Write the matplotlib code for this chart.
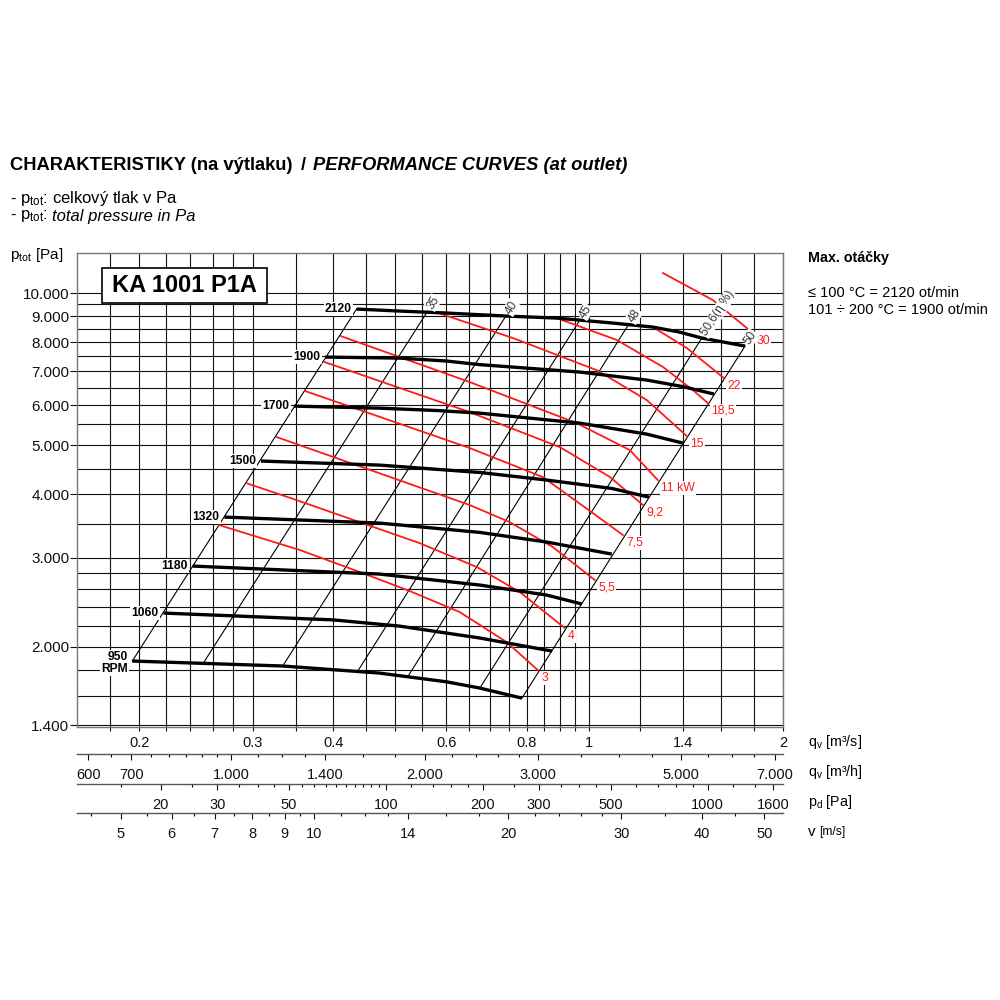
import matplotlib
matplotlib.use("Agg")
import numpy as np
import matplotlib.pyplot as plt
from matplotlib.patches import Rectangle
from matplotlib.ticker import NullFormatter

plt.rcParams["font.family"] = ["Liberation Sans", "DejaVu Sans"]
plt.rcParams["mathtext.fontset"] = "custom"
plt.rcParams["mathtext.rm"] = "Liberation Sans"
plt.rcParams["mathtext.it"] = "Liberation Sans:italic"
plt.rcParams["mathtext.bf"] = "Liberation Sans:bold"

# ---- fan curves: q [m3/s], p_tot [Pa] ----
q_2120 = [0.435, 0.507, 0.600, 0.744, 0.890, 1.088, 1.256, 1.380, 1.496, 1.746]
p_2120 = [9298, 9214, 9131, 9006, 8924, 8724, 8566, 8374, 8149, 7857]
q_1900 = [0.389, 0.507, 0.600, 0.676, 0.967, 1.229, 1.400, 1.562]
p_1900 = [7472, 7438, 7340, 7220, 6980, 6730, 6530, 6316]
q_1700 = [0.348, 0.472, 0.580, 0.676, 0.967, 1.229, 1.398]
p_1700 = [5978, 5923, 5860, 5790, 5533, 5262, 5052]
q_1500 = [0.309, 0.472, 0.676, 0.859, 1.084, 1.238]
p_1500 = [4656, 4571, 4420, 4270, 4110, 3951]
q_1320 = [0.271, 0.472, 0.676, 0.859, 1.084]
p_1320 = [3608, 3511, 3365, 3220, 3049]
q_1180 = [0.242, 0.472, 0.676, 0.859, 0.974]
p_1180 = [2887, 2784, 2648, 2530, 2429]
q_1060 = [0.218, 0.400, 0.507, 0.676, 0.875]
p_1060 = [2331, 2260, 2197, 2081, 1961]
q_950 = [0.195, 0.334, 0.472, 0.600, 0.676, 0.786]
p_950 = [1874, 1832, 1774, 1705, 1657, 1583]
rpm_names = ["2120", "1900", "1700", "1500", "1320", "1180", "1060", "950\nRPM"]

# efficiency lines (eta %), lower end on 950 RPM, upper end on 2120 RPM
eff_names = ["", "35", "40", "45", "48", "50,6(η %)", "50"]
eff_q_low = [0.195, 0.252, 0.334, 0.437, 0.522, 0.676, 0.786]
eff_p_low = [1874, 1865, 1832, 1791, 1742, 1657, 1583]
eff_q_high = [0.435, 0.561, 0.742, 0.967, 1.152, 1.496, 1.746]
eff_p_high = [9298, 9214, 9006, 8844, 8683, 8149, 7857]

# motor power lines [kW]
q_3kw = [0.266, 0.355, 0.440, 0.526, 0.629, 0.744, 0.832]
p_3kw = [3479, 3106, 2810, 2577, 2342, 2043, 1798]
q_4kw = [0.293, 0.351, 0.545, 0.669, 0.780, 0.916]
p_4kw = [4212, 3898, 3205, 2874, 2565, 2178]
q_55kw = [0.327, 0.652, 0.752, 0.878, 1.020]
p_55kw = [5192, 3811, 3527, 3148, 2709]
q_75kw = [0.362, 0.652, 0.847, 1.013, 1.128]
p_75kw = [6402, 4940, 4329, 3674, 3325]
q_92kw = [0.388, 0.652, 0.900, 1.077, 1.212]
p_92kw = [7305, 5817, 4962, 4329, 3811]
q_11kw = [0.411, 0.652, 0.956, 1.156, 1.278]
p_11kw = [8224, 6670, 5533, 4894, 4270]
q_15kw = [0.571, 0.761, 1.027, 1.229, 1.418]
p_15kw = [9214, 8149, 7041, 6143, 5215]
q_185kw = [0.890, 1.104, 1.302, 1.449, 1.529]
p_185kw = [8924, 8075, 7142, 6431, 6060]
q_22kw = [1.256, 1.418, 1.619]
p_22kw = [8566, 7785, 6792]
q_30kw = [1.302, 1.556, 1.796]
p_30kw = [10952, 9687, 8336]
power_names = ["3", "4", "5,5", "7,5", "9,2", "11 kW", "15", "18,5", "22", "30"]

# axes ticks / grid
q_major = [0.2, 0.3, 0.4, 0.6, 0.8, 1.0, 1.4, 2.0]
q_major_labels = ["0.2", "0.3", "0.4", "0.6", "0.8", "1", "1.4", "2"]
q_grid = [0.18, 0.22, 0.24, 0.26, 0.28, 0.35, 0.45, 0.5, 0.55, 0.65, 0.7,
          0.75, 0.85, 0.9, 0.95, 1.2, 1.6, 1.8]
p_major = [1400, 2000, 3000, 4000, 5000, 6000, 7000, 8000, 9000, 10000]
p_major_labels = ["1.400", "2.000", "3.000", "4.000", "5.000", "6.000",
                  "7.000", "8.000", "9.000", "10.000"]
p_grid = [1600, 1800, 2200, 2400, 2600, 2800, 3500, 4500, 5500, 6500, 7500,
          8500, 9500]
qh_major = [600, 700, 1000, 1400, 2000, 3000, 5000, 7000]
qh_labels = ["600", "700", "1.000", "1.400", "2.000", "3.000", "5.000", "7.000"]
qh_minor = [650, 750, 800, 850, 900, 950, 1100, 1200, 1300, 1600, 1800,
            2200, 2400, 2600, 2800, 3500, 4000, 4500, 5500, 6000, 6500]
pd_major = [20, 30, 50, 100, 200, 300, 500, 1000, 1600]
pd_minor = [15, 25, 35, 40, 45, 55, 60, 65, 70, 75, 80, 85, 90, 95, 120, 140,
            160, 180, 250, 350, 400, 450, 600, 700, 800, 900, 1200, 1400]
v_major = [5, 6, 7, 8, 9, 10, 14, 20, 30, 40, 50]
v_minor = [4.5, 5.5, 6.5, 7.5, 8.5, 9.5, 11, 12, 13, 16, 18, 22, 24, 26, 28,
           35, 45]

duct_area = 0.0374   # m2, v = q / A
rho = 1.2            # kg/m3, pd = rho/2 * v^2

fig = plt.figure(figsize=(10, 10), dpi=100)
ax = fig.add_axes([0.077, 0.273, 0.706, 0.474])
ax.set_xscale("log")
ax.set_yscale("log")
ax.set_xlim(0.16, 2.0)
ax.set_ylim(1388, 12000)

ax.set_xticks(q_major, q_major_labels)
ax.set_xticks(q_grid, minor=True)
ax.xaxis.set_minor_formatter(NullFormatter())
ax.set_yticks(p_major, p_major_labels)
ax.set_yticks(p_grid, minor=True)
ax.yaxis.set_minor_formatter(NullFormatter())
ax.grid(which="both", color="#111111", lw=0.8)
ax.set_axisbelow(True)
ax.tick_params(axis="x", which="both", direction="out", length=3, width=0.8,
               pad=3.5, labelsize=10.5, colors="#111111")
ax.tick_params(axis="y", which="major", direction="out", length=5, width=0.8,
               pad=0.5, labelsize=11, colors="#111111")
ax.tick_params(axis="y", which="minor", length=0)
for s in ax.spines.values():
    s.set_color("#777777")
    s.set_linewidth(1.0)

# efficiency lines
for ql, pl, qh, ph in zip(eff_q_low, eff_p_low, eff_q_high, eff_p_high):
    ax.plot([ql, qh], [pl, ph], color="black", lw=0.8, zorder=3)

# power lines
power_q = [q_3kw, q_4kw, q_55kw, q_75kw, q_92kw, q_11kw, q_15kw, q_185kw, q_22kw, q_30kw]
power_p = [p_3kw, p_4kw, p_55kw, p_75kw, p_92kw, p_11kw, p_15kw, p_185kw, p_22kw, p_30kw]
for name, q, p in zip(power_names, power_q, power_p):
    ax.plot(q, p, color="#ff1a1a", lw=1.3, zorder=3.5)
    ax.annotate(name, xy=(q[-1], p[-1]), xytext=(2.5, -5.5),
                textcoords="offset points", ha="left", va="center",
                fontsize=8.8, color="#ff1a1a", zorder=6,
                bbox=dict(boxstyle="square,pad=0.08", fc="white", ec="none"))

# RPM curves
rpm_q = [q_2120, q_1900, q_1700, q_1500, q_1320, q_1180, q_1060, q_950]
rpm_p = [p_2120, p_1900, p_1700, p_1500, p_1320, p_1180, p_1060, p_950]
for name, q, p in zip(rpm_names, rpm_q, rpm_p):
    ax.plot(q, p, color="black", lw=2.4, zorder=4, solid_capstyle="butt")
    ax.annotate(name, xy=(q[0], p[0]), xytext=(-3.5, -1.5 if "\n" in name else 0),
                textcoords="offset points", ha="right", va="center",
                fontsize=8.7, fontweight="bold", linespacing=0.95, zorder=6,
                bbox=dict(boxstyle="square,pad=0.1", fc="white", ec="none"))

# efficiency labels along the lines
for name, ql, pl, qh, ph in zip(eff_names, eff_q_low, eff_p_low, eff_q_high, eff_p_high):
    if not name:
        continue
    (x0, y0), (x1, y1) = ax.transData.transform([(ql, pl), (qh, ph)])
    ang = np.degrees(np.arctan2(y1 - y0, x1 - x0))
    dx, dy = 2.5 * np.cos(np.radians(ang)), 2.5 * np.sin(np.radians(ang))
    ax.annotate(name, xy=(qh, ph), xytext=(dx, dy), textcoords="offset points",
                rotation=ang, rotation_mode="anchor", ha="left", va="center",
                fontsize=8.5, color="#333333", zorder=6,
                bbox=dict(boxstyle="square,pad=0.05", fc="white", ec="none"))

# model box
ax.add_patch(Rectangle((0.0354, 0.8945), 0.2337, 0.0739, transform=ax.transAxes,
                       fc="white", ec="black", lw=1.2, zorder=6))
ax.text(0.1516, 0.9314, "KA 1001 P1A", transform=ax.transAxes, ha="center",
        va="center", fontsize=17, fontweight="bold", zorder=7)

# secondary scales below the chart
sec_h = ax.secondary_xaxis(-0.057, functions=(lambda q: q * 3600, lambda h: h / 3600))
sec_pd = ax.secondary_xaxis(
    -0.1203,
    functions=(lambda q: 0.5 * rho * (q / duct_area) ** 2,
               lambda pd: duct_area * np.sqrt(np.abs(pd) * 2 / rho)))
sec_v = ax.secondary_xaxis(-0.1814, functions=(lambda q: q / duct_area,
                                               lambda v: v * duct_area))
sec_specs = [(sec_h, qh_major, qh_labels, qh_minor),
             (sec_pd, pd_major, [str(v) for v in pd_major], pd_minor),
             (sec_v, v_major, [str(v) for v in v_major], v_minor)]
for sec, major, labels, minor in sec_specs:
    sec.set_ticks(major, labels)
    sec.set_ticks(minor, minor=True)
    sec.xaxis.set_minor_formatter(NullFormatter())
    sec.tick_params(which="major", direction="out", length=4, width=0.8,
                    pad=6, labelsize=10.5, colors="#111111")
    sec.tick_params(which="minor", direction="out", length=2.5, width=0.8)
    sec.spines["bottom"].set_color("#555555")
    sec.spines["bottom"].set_linewidth(1.0)

# units at the right of the scales
fig.text(0.808, 1 - 0.742, r"$\mathregular{q_{v}}$ [m³/s]", fontsize=10.3, va="center")
fig.text(0.808, 1 - 0.772, r"$\mathregular{q_{v}}$ [m³/h]", fontsize=10.3, va="center")
fig.text(0.808, 1 - 0.802, r"$\mathregular{p_{d}}$ [Pa]", fontsize=10.3, va="center")
fig.text(0.808, 1 - 0.832, "v", fontsize=10.8, va="center")
fig.text(0.819, 1 - 0.832, "[m/s]", fontsize=8.7, va="center")

# header
fig.canvas.draw()
renderer = fig.canvas.get_renderer()
title_y = 1 - 0.1705
t1 = fig.text(0.010, title_y, "CHARAKTERISTIKY (na výtlaku)", fontsize=13.2,
              fontweight="bold", va="baseline")
bb = t1.get_window_extent(renderer)
t2 = fig.text((bb.x1 + 8) / 1000, title_y, "/", fontsize=13.2,
              fontweight="bold", va="baseline")
bb = t2.get_window_extent(renderer)
fig.text((bb.x1 + 7) / 1000, title_y, "PERFORMANCE CURVES (at outlet)",
         fontsize=13.2, fontweight="bold", style="italic", va="baseline")

fig.text(0.010, 1 - 0.198, r"- $\mathregular{p_{tot}}$: celkový tlak v Pa",
         fontsize=12, va="center")
t3 = fig.text(0.010, 1 - 0.216, r"- $\mathregular{p_{tot}}$:", fontsize=12, va="center")
bb = t3.get_window_extent(renderer)
fig.text((bb.x1 + 4) / 1000, 1 - 0.216, "total pressure in Pa", fontsize=12,
         style="italic", va="center")

fig.text(0.010, 1 - 0.255, r"$\mathregular{p_{tot}}$ [Pa]", fontsize=11, va="center")

fig.text(0.808, 1 - 0.258, "Max. otáčky", fontsize=10.3, fontweight="bold", va="center")
fig.text(0.808, 1 - 0.293, "≤ 100 °C = 2120 ot/min", fontsize=10.5, va="center")
fig.text(0.808, 1 - 0.310, "101 ÷ 200 °C = 1900 ot/min", fontsize=10.5, va="center")

fig.savefig("out.png", dpi=100)
